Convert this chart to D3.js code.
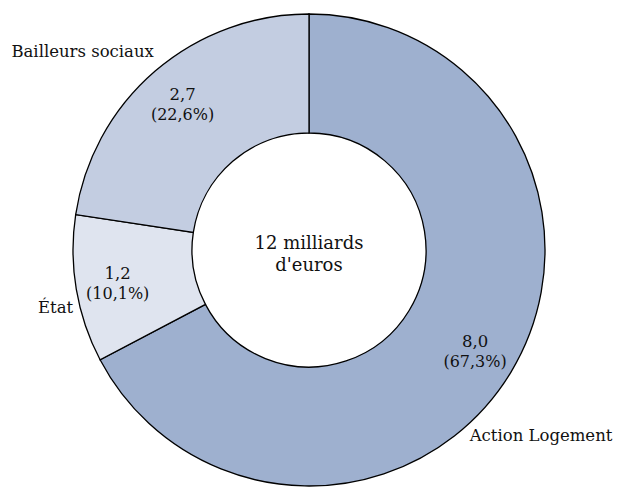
<!DOCTYPE html>
<html>
<head>
<meta charset="utf-8">
<script src="https://cdn.jsdelivr.net/npm/d3@7"></script>
<style>
  body { margin: 0; background: #fff; }
  text { font-family: "DejaVu Serif", "Liberation Serif", serif; fill: #111; }
</style>
</head>
<body>
<div id="chart"></div>
<script>
// data
var categories = ["Action Logement", "État", "Bailleurs sociaux"];
var values = [8.0, 1.2, 2.7];
var shares = [67.3, 10.1, 22.6];
var colors = ["#9eb0cf", "#dfe4ef", "#c3cde1"];
var centerLabel = ["12 milliards", "d'euros"];

var svgWidth = 625, svgHeight = 496;
var cx = 309, cy = 250;
var outerR = 236, innerR = 117;

var svg = d3.select("#chart").append("svg")
    .attr("width", svgWidth)
    .attr("height", svgHeight);

var g = svg.append("g").attr("transform", `translate(${cx},${cy})`);

var fmt = d => d.toFixed(1).replace(".", ",");

var pie = d3.pie().sort(null).value((d, i) => shares[i]);
var arcs = pie(categories);

var arc = d3.arc().innerRadius(innerR).outerRadius(outerR);

g.selectAll("path.slice")
    .data(arcs)
    .enter()
    .append("path")
    .attr("class", "slice")
    .attr("d", arc)
    .attr("fill", (d, i) => colors[i])
    .attr("stroke", "#000")
    .attr("stroke-width", 1.3);

// value labels
var labelArc = d3.arc().innerRadius(194).outerRadius(194);
var vals = g.selectAll("g.val")
    .data(arcs)
    .enter()
    .append("g")
    .attr("class", "val")
    .attr("transform", d => `translate(${labelArc.centroid(d)})`);

vals.append("text")
    .attr("text-anchor", "middle")
    .attr("y", -3)
    .style("font-size", "16.5px")
    .text((d, i) => fmt(values[i]));
vals.append("text")
    .attr("text-anchor", "middle")
    .attr("y", 17)
    .style("font-size", "16px")
    .text((d, i) => "(" + fmt(shares[i]) + "%)");

// category labels outside the ring
// angle (radians from top, clockwise), radius, anchor, dy
var catPos = [
    {a: 2.43, r: 246, anchor: "start", dy: 5},
    {a: 4.47, r: 243, anchor: "end", dy: 5},
    {a: 5.62, r: 252, anchor: "end", dy: 6}
];
g.selectAll("text.cat")
    .data(categories)
    .enter()
    .append("text")
    .attr("class", "cat")
    .attr("x", (d, i) => Math.sin(catPos[i].a) * catPos[i].r)
    .attr("y", (d, i) => -Math.cos(catPos[i].a) * catPos[i].r + catPos[i].dy)
    .attr("text-anchor", (d, i) => catPos[i].anchor)
    .style("font-size", "16.5px")
    .text(d => d);

// center label
g.selectAll("text.center")
    .data(centerLabel)
    .enter()
    .append("text")
    .attr("class", "center")
    .attr("text-anchor", "middle")
    .attr("y", (d, i) => -1 + i * 22)
    .style("font-size", "18px")
    .text(d => d);
</script>
</body>
</html>
